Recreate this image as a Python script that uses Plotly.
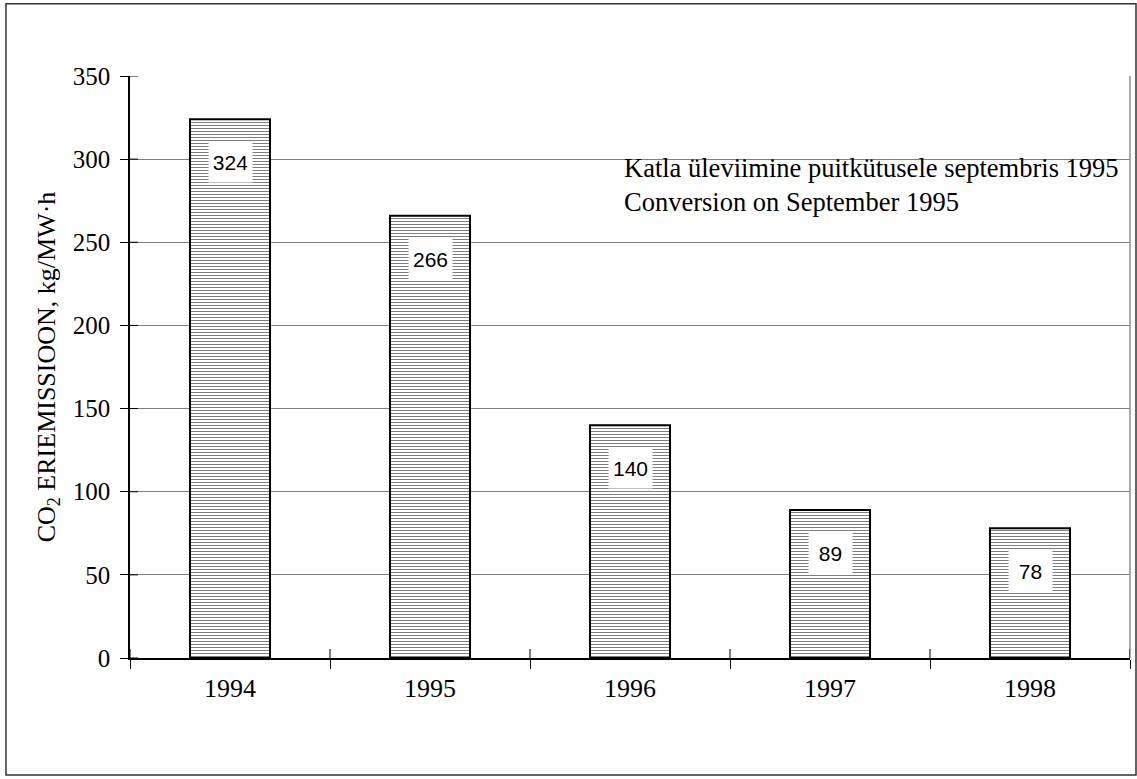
import plotly.graph_objects as go

years = ["1994", "1995", "1996", "1997", "1998"]
co2 = [324, 266, 140, 89, 78]
y_ticks = [0, 50, 100, 150, 200, 250, 300, 350]
note_lines = ["Katla üleviimine puitkütusele septembris 1995",
              "Conversion on September 1995"]

SERIF = "Liberation Serif, Times New Roman, serif"
SANS = "Liberation Sans, Arial, sans-serif"

fig = go.Figure(go.Bar(
    x=years, y=co2, width=0.4,
    marker=dict(color="white",
                line=dict(color="black", width=2),
                pattern=dict(shape="-", fgcolor="black", bgcolor="white",
                             size=3, solidity=0.35)),
    hoverinfo="skip",
))

# value labels: white boxes a little below the top of each bar
# (category index as x, year-like strings would be read as positions)
for i, v in enumerate(co2):
    fig.add_annotation(x=i, y=v, text=str(v), showarrow=False,
                       yshift=-43, yanchor="middle", bgcolor="white",
                       width=41, height=38,
                       font=dict(family=SANS, size=21, color="black"))

fig.add_annotation(xref="paper", yref="y", x=0.492, y=305, xanchor="left",
                   yanchor="top", align="left", showarrow=False,
                   text="<br>".join(note_lines),
                   font=dict(family=SERIF, size=26.5, color="black"))

# outer frame
fig.add_shape(type="rect", xref="paper", yref="paper",
              x0=-0.124, x1=1.006, y0=-0.201, y1=1.124,
              line=dict(color="#333333", width=1.5), layer="below")
# grey right border
fig.add_shape(type="line", xref="paper", yref="paper", x0=1, x1=1, y0=0, y1=1,
              line=dict(color="#909090", width=1.5))

# inner half of the crossing tick marks
for b in range(len(years) + 1):
    fig.add_shape(type="line", xref="x", yref="y", ysizemode="pixel", yanchor=0,
                  x0=b - 0.5, x1=b - 0.5, y0=0, y1=9,
                  line=dict(color="black", width=1))
for t in y_ticks:
    fig.add_shape(type="line", xref="paper", yref="y", xsizemode="pixel", xanchor=0,
                  x0=0, x1=8, y0=t, y1=t,
                  line=dict(color="black", width=1))

fig.update_xaxes(type="category", range=[-0.5, 4.5],
                 showline=True, linecolor="black", linewidth=1.5,
                 ticks="outside", tickson="boundaries", ticklen=9,
                 tickcolor="black", tickwidth=1, ticklabelstandoff=6,
                 tickfont=dict(family=SERIF, size=26, color="black"),
                 showgrid=False)
fig.update_yaxes(range=[0, 350], tickvals=y_ticks,
                 showline=True, linecolor="black", linewidth=1.5,
                 ticks="outside", ticklen=8, tickcolor="black",
                 ticklabelstandoff=5,
                 showgrid=True, gridcolor="#808080", gridwidth=1,
                 zeroline=False,
                 tickfont=dict(family=SERIF, size=25, color="black"),
                 title=dict(text="CO<sub>2</sub> ERIEMISSIOON, kg/MW·h",
                            font=dict(family=SERIF, size=26, color="black"),
                            standoff=10))

fig.update_layout(width=1137, height=779,
                  margin=dict(l=130, r=7, t=76, b=121),
                  plot_bgcolor="white", paper_bgcolor="white",
                  showlegend=False, bargap=0.6)

fig.write_html("out.html", config={"displayModeBar": False},
               post_script="document.body.style.margin='0';")
